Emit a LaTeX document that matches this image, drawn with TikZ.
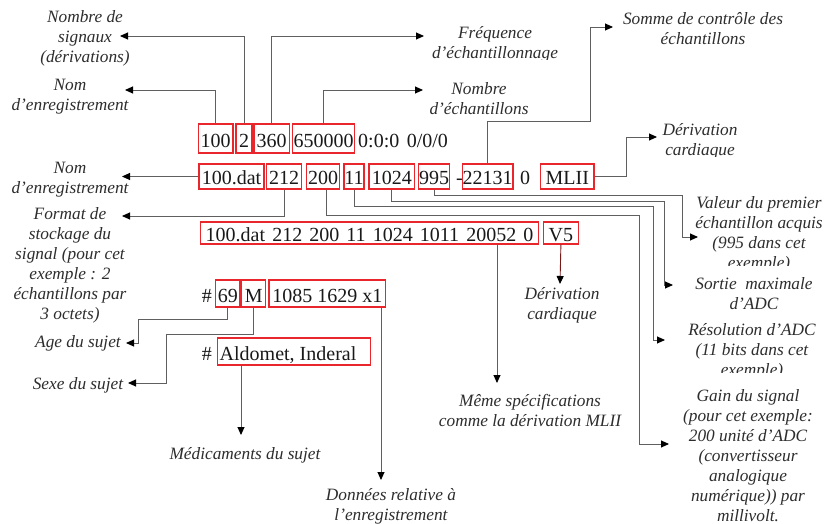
\documentclass[tikz,border=0pt]{standalone}
\usepackage{fontspec}
\setmainfont{Liberation Serif}
\usetikzlibrary{arrows.meta}
\definecolor{boxred}{RGB}{232,38,44}
\definecolor{wire}{RGB}{95,95,95}
\definecolor{ink}{RGB}{25,25,25}
\definecolor{note}{RGB}{45,45,45}
\definecolor{leadred}{RGB}{120,25,25}

\begin{document}
\begin{tikzpicture}[x=1pt,y=-1pt,
  rec/.style={font=\fontsize{20}{24}\selectfont, text=ink, inner sep=0pt},
  plain/.style={rec, anchor=base west},
  fld/.style={rec, draw=boxred, line width=1.4pt, inner ysep=1pt, anchor=base west},
  rowA/.style={fld, text height=23pt, text depth=4pt},
  rowB/.style={fld, text height=20pt, text depth=3pt},
  rowC/.style={fld, text height=18pt, text depth=2pt},
  rowD/.style={fld, text height=21pt, text depth=4pt},
  lbl/.style={font=\fontsize{17.3}{20}\selectfont\itshape, text=note, align=center, inner sep=0pt},
  conn/.style={draw=wire, line width=0.9pt, -{Triangle[length=8pt,width=7pt,color=black]}},
]
\fill[white] (0,0) rectangle (825,524);
\useasboundingbox (0,0) rectangle (825,524);

% ---- header line of the record
\node[rowA, minimum width=34.6pt] (r100) at (197.7,148) {100};
\node[rowA, minimum width=16pt]   (rsig) at (235.3,148) {2};
\node[rowA, minimum width=35.4pt] (rfs)  at (253.3,148) {360};
\node[rowA, minimum width=62pt]   (rns)  at (292,148) {650000};
\node[plain] (rrest) at (358,148) {\spaceskip=7.5pt 0:0:0 0/0/0};

% ---- first signal line (MLII)
\node[rowB, minimum width=65pt]   (r100dat) at (198.3,185) {100.dat};
\node[rowB, minimum width=35pt]   (r212)    at (266,185) {212};
\node[rowB, minimum width=33.3pt] (r200)    at (305.7,185) {200};
\node[rowB, minimum width=20pt]   (r11)     at (343.3,185) {11};
\node[rowB, minimum width=45.7pt] (r1024)   at (368.3,185) {1024};
\node[rowB, minimum width=31.3pt] (r995)    at (417.7,185) {995};
\node[plain] (rminus) at (456,185) {-};
\node[rowB, minimum width=50.6pt] (r22131)  at (461.7,185) {22131};
\node[plain] (rzero) at (520,185) {0};
\node[rowB, minimum width=53.3pt] (rMLII)   at (540,185) {MLII};

% ---- second signal line (V5)
\node[rowC, minimum width=337.7pt] (rlead) at (200,241) {\spaceskip=7.1pt 100.dat 212 200 11 1024 1011 20052 0};
\node[rowC, minimum width=35pt]    (rV5)   at (542.7,241) {V5};

% ---- comment lines
\node[plain] (rhashA) at (201.7,302) {\#};
\node[rowD, minimum width=24.3pt]  (r69) at (215,302) {69};
\node[rowD, minimum width=24pt]    (rM)  at (241,302) {M};
\node[rowD, minimum width=116.7pt] (rx)  at (268.3,302) {1085 1629 x1};
\node[plain] (rhashB) at (201.7,360) {\#};
\node[rowD, minimum width=153.3pt] (rmed) at (216.7,360) {Aldomet, Inderal\hspace*{12pt}};

% ---- descriptions
\node[lbl] (lSig)  at (85,38)  {Nombre de\\signaux\\(dérivations)};
\node[lbl] (lRec1) at (70,97)  {Nom\\d’enregistrement};
\begin{scope}
  \clip (400,0) rectangle (600,60);
  \node[lbl] (lFs) at (495,44) {Fréquence\\d’échantillonnage};
\end{scope}
\node[lbl] (lNs)  at (479,98.5) {Nombre\\d’échantillons};
\node[lbl] (lSum) at (703,29) {Somme de contrôle des\\échantillons};
\begin{scope}
  \clip (640,100) rectangle (825,157);
  \node[lbl] (lLeadA) at (700,141) {Dérivation\\cardiaque};
\end{scope}
\node[lbl] (lRec2) at (70,180) {Nom\\d’enregistrement};
\node[lbl] (lFmt)  at (70,265) {Format de\\stockage du\\signal (pour cet\\exemple : 2\\échantillons par\\3 octets)};
\begin{scope}
  \clip (680,190) rectangle (825,265);
  \node[lbl] (lInit) at (759,234) {Valeur du premier\\échantillon acquis\\(995 dans cet\\exemple)};
\end{scope}
\node[lbl] (lAdcMax) at (754,294) {Sortie\ \ maximale\\d’ADC};
\begin{scope}
  \clip (680,315) rectangle (825,372);
  \node[lbl] (lRes) at (752,351) {Résolution d’ADC\\(11 bits dans cet\\exemple)};
\end{scope}
\node[lbl] (lGain)  at (748,455.5) {Gain du signal\\(pour cet exemple:\\200 unité d’ADC\\(convertisseur\\analogique\\numérique)) par\\millivolt.};
\node[lbl] (lSame)  at (530,410) {Même spécifications\\comme la dérivation MLII};
\node[lbl] (lLeadB) at (562,305) {Dérivation\\cardiaque};
\node[lbl] (lAge)   at (78,343) {Age du sujet};
\node[lbl] (lSex)   at (78,385) {Sexe du sujet};
\node[lbl] (lMed)   at (245,455) {Médicaments du sujet};
\node[lbl] (lData)  at (391,506) {Données relative à\\l’enregistrement};

% ---- arrow tips
\coordinate (tSig)    at (120,36);
\coordinate (tRec1)   at (125,90);
\coordinate (tFs)     at (424,36);
\coordinate (tNs)     at (423,90);
\coordinate (tSum)    at (613,27);
\coordinate (tLeadA)  at (657,137);
\coordinate (tRec2)   at (122,176.5);
\coordinate (tFmt)    at (122,216);
\coordinate (tInit)   at (698,237);
\coordinate (tAdcMax) at (673,285);
\coordinate (tRes)    at (665,340);
\coordinate (tGain)   at (669,444);
\coordinate (tSame)   at (497,383);
\coordinate (tLeadB)  at (560,284);
\coordinate (tAge)    at (126,343);
\coordinate (tSex)    at (128,383);
\coordinate (tMed)    at (241,435);
\coordinate (tData)   at (381,480);

% ---- connectors
\draw[conn] (r100.north) |- (tRec1);
\draw[conn] (rsig.north) |- (tSig);
\draw[conn] (rfs.north)  |- (tFs);
\draw[conn] (rns.north)  |- (tNs);
\draw[conn] (r22131.north) |- (590,121) |- (tSum);
\draw[conn] (rMLII.east) -| (626.7,137) -- (tLeadA);
\draw[conn] (r100dat.west) -- (tRec2);
\draw[conn] (r212.south) |- (tFmt);
\draw[conn] (r995.south)  |- (682.7,195) |- (tInit);
\draw[conn] (r1024.south) |- (664.3,201.7) |- (tAdcMax);
\draw[conn] (r11.south)   |- (653.3,206.7) |- (tRes);
\draw[conn] ([xshift=3pt]r200.south) |- (639.5,215) |- (tGain);
\draw[conn] (rlead.south -| tSame) -- (tSame);
\draw[conn, draw=leadred] (rV5.south) -- (tLeadB);
\draw[conn] (r69.south) |- (138.3,319.3) |- (tAge);
\draw[conn] (rM.south)  |- (166.7,334.3) |- (tSex);
\draw[conn] (rmed.south -| tMed) -- (tMed);
\draw[conn] (rx.south -| tData) -- (tData);
\end{tikzpicture}
\end{document}
